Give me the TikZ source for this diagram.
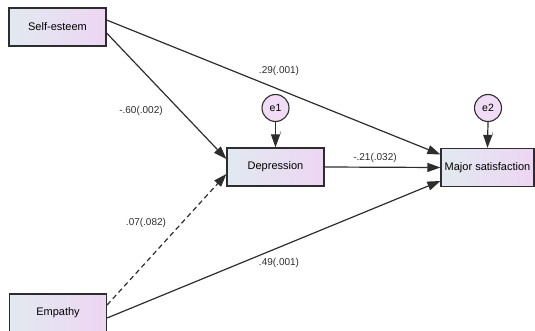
\documentclass[tikz,border=0pt]{standalone}
\usepackage{fontspec}
\setmainfont{Liberation Sans}
\usetikzlibrary{positioning,arrows.meta,calc}
\definecolor{BoxLeft}{RGB}{226,233,240}
\definecolor{BoxRight}{RGB}{237,214,243}
\definecolor{EdgeGray}{RGB}{45,45,45}

\begin{document}
\begin{tikzpicture}[x=1pt,y=-1pt,
    var/.style={draw=EdgeGray,line width=1.2pt,left color=BoxLeft,right color=BoxRight,
      minimum width=97pt,minimum height=38pt,inner sep=0pt,font=\fontsize{11}{13}\selectfont},
    err/.style={circle,draw=EdgeGray,line width=1.1pt,fill=BoxRight!85!white,
      minimum size=27pt,inner sep=0pt,font=\fontsize{10.5}{12}\selectfont},
    regpath/.style={line width=1.2pt,EdgeGray,-{Triangle[length=13pt,width=9pt]}},
    coef/.style={font=\fontsize{10}{12}\selectfont,text=EdgeGray}]
			\useasboundingbox (0,0) rectangle (535,331);
			\node[var] (self) at (57.5,27) {Self-esteem};
			\node[var] (emp) at (58,313) {Empathy};
			\node[var] (dep) at (275.5,167) {Depression};
			\node[var,minimum width=93pt] (sat) at (487.5,167.5) {Major satisfaction};
			\node[err] (e1) at (275.5,108) {e1};
			\node[err] (e2) at (488,108) {e2};
			\draw[regpath] ($(self.east)+(0,-7)$) -- ($(sat.west)+(0,-13)$);
			\draw[regpath] ($(self.east)+(0,6)$) -- ($(dep.west)+(0,-8)$);
			\draw[regpath] (dep.east) -- (sat.west);
			\draw[regpath,dash pattern=on 5pt off 3.5pt] ($(emp.east)+(0,-8)$) -- ($(dep.west)+(0,7)$);
			\draw[regpath] ($(emp.east)+(0,5)$) -- ($(sat.west)+(0,13.5)$);
			\draw[regpath] (e1.south) -- (dep.north) node[pos=0.45,right=0pt,font=\fontsize{4}{4}\selectfont] {1};
			\draw[regpath] (e2.south) -- (sat.north) node[pos=0.45,right=0pt,font=\fontsize{4}{4}\selectfont] {1};
			\node[coef] at (279,71) {.29(.001)};
			\node[coef] at (141,111) {-.60(.002)};
			\node[coef] at (375,158) {-.21(.032)};
			\node[coef] at (146,223) {.07(.082)};
			\node[coef] at (279,263) {.49(.001)};
		\end{tikzpicture}
\end{document}
